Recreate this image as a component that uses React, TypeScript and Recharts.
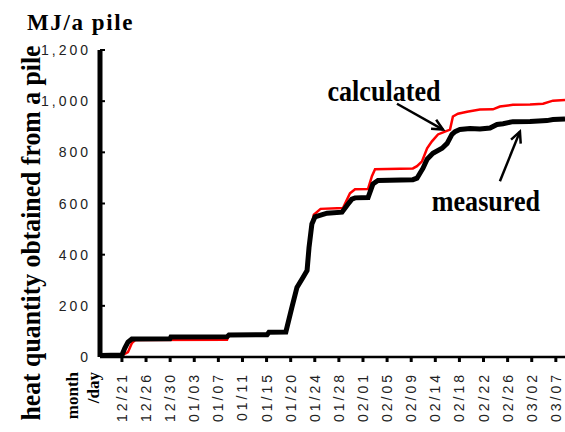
import { Line, LineChart, ReferenceLine, XAxis, YAxis } from "recharts";

// x is measured in tick steps (0 = 12/21, 18 = 03/07)
const dayLabels = [
  "12/21", "12/26", "12/30", "01/03", "01/07", "01/11", "01/15", "01/20",
  "01/24", "01/28", "02/01", "02/05", "02/09", "02/14", "02/18", "02/22",
  "02/26", "03/02", "03/07",
];
const dayTicks = dayLabels.map((_, i) => i);
const qtyTicks = [0, 200, 400, 600, 800, 1000, 1200];

const measured: [number, number][] = [
  [-0.91, 6], [0.0, 8], [0.12, 35], [0.25, 58], [0.41, 70], [1.99, 71],
  [2.03, 78], [4.36, 79], [4.44, 86], [6.02, 87], [6.1, 97], [6.8, 98],
  [7.05, 194], [7.26, 272], [7.51, 311], [7.68, 338], [7.76, 427],
  [7.88, 520], [8.01, 548], [8.51, 562], [9.13, 566], [9.38, 598],
  [9.54, 617], [9.67, 622], [10.21, 623], [10.41, 676], [10.62, 690],
  [12.07, 693], [12.24, 699], [12.49, 738], [12.66, 773], [12.9, 796],
  [13.28, 816], [13.49, 835], [13.69, 870], [13.82, 881], [14.02, 889],
  [14.44, 893], [14.85, 891], [15.27, 895], [15.56, 909], [15.81, 912],
  [16.22, 920], [16.93, 921], [17.63, 924], [17.88, 928], [18.38, 930],
];

const calculated: [number, number][] = [
  [-0.91, 4], [0.0, 4], [0.04, 8], [0.25, 19], [0.41, 54], [0.55, 66],
  [4.36, 67], [4.44, 86], [6.02, 87], [6.1, 97], [6.8, 98], [7.05, 194],
  [7.26, 272], [7.51, 311], [7.68, 338], [7.76, 427], [7.88, 520],
  [7.96, 556], [8.24, 579], [9.17, 582], [9.46, 640], [9.67, 656],
  [10.21, 657], [10.37, 707], [10.5, 734], [12.07, 737], [12.24, 746],
  [12.45, 765], [12.66, 816], [12.86, 843], [13.11, 870], [13.4, 881],
  [13.61, 889], [13.73, 940], [13.94, 951], [14.32, 959], [14.85, 967],
  [15.39, 968], [15.68, 979], [16.22, 986], [16.93, 987], [17.47, 990],
  [17.88, 1002], [18.38, 1005],
];

// annotation arrows: [tail, head]
const calcArrow: [number, number][] = [[11.41, 990], [13.32, 889]];
const measArrow: [number, number][] = [[15.68, 687], [16.51, 881]];

const SANS = "'Liberation Sans', Arial, sans-serif";
const SERIF = "'Liberation Serif', 'Times New Roman', serif";

const toRows = (pts: [number, number][]) => pts.map(([t, q]) => ({ t, q }));

function DayTick({ x, y, payload }: any) {
  return (
    <text
      x={x}
      y={y}
      transform={`rotate(-90 ${x} ${y})`}
      textAnchor="end"
      dy="0.36em"
      fontFamily={SANS}
      fontSize={14}
      letterSpacing={3}
      fill="#222"
    >
      {dayLabels[payload.value]}
    </text>
  );
}

function QtyTick({ x, y, payload }: any) {
  return (
    <g>
      <line x1={x + 12} x2={x + 17} y1={y} y2={y} stroke="#000" strokeWidth={2} />
      <text
        x={x + 3}
        y={y}
        textAnchor="end"
        dy="0.36em"
        fontFamily={SANS}
        fontSize={14}
        letterSpacing={3}
        fill="#222"
      >
        {payload.value.toLocaleString("en-US")}
      </text>
    </g>
  );
}

function arrowWithCaption(caption: string, dx: number, dy: number) {
  return (p: any) => {
    const { x1, y1, x2, y2 } = p;
    const a = Math.atan2(y2 - y1, x2 - x1);
    const L = 12;
    const s = Math.PI / 7;
    const h1 = [x2 - L * Math.cos(a - s), y2 - L * Math.sin(a - s)];
    const h2 = [x2 - L * Math.cos(a + s), y2 - L * Math.sin(a + s)];
    return (
      <g>
        <line x1={x1} y1={y1} x2={x2} y2={y2} stroke="#000" strokeWidth={2.5} />
        <polyline
          points={`${h1[0]},${h1[1]} ${x2},${y2} ${h2[0]},${h2[1]}`}
          fill="none"
          stroke="#000"
          strokeWidth={2.5}
        />
        <text
          transform={`translate(${x1 + dx} ${y1 + dy}) scale(0.9 1)`}
          textAnchor="middle"
          fontFamily={SERIF}
          fontWeight="bold"
          fontSize={29}
          fill="#000"
        >
          {caption}
        </text>
      </g>
    );
  };
}

export default function App() {
  return (
    <div style={{ position: "absolute", left: 0, top: 0, width: 565, height: 432, background: "#fff" }}>
      <LineChart width={565} height={432} margin={{ top: 50, right: 0, bottom: 0, left: 0 }}>
        <XAxis
          dataKey="t"
          type="number"
          domain={[-0.91, 18.38]}
          allowDataOverflow
          ticks={dayTicks}
          interval={0}
          height={75}
          tickSize={5}
          tickMargin={10}
          tickLine={{ stroke: "#000", strokeWidth: 3 }}
          axisLine={{ stroke: "#000", strokeWidth: 2.5 }}
          tick={<DayTick />}
        />
        <YAxis
          type="number"
          domain={[0, 1200]}
          ticks={qtyTicks}
          interval={0}
          width={100}
          tickSize={0}
          tickMargin={12}
          tickLine={false}
          axisLine={{ stroke: "#000", strokeWidth: 5 }}
          tick={<QtyTick />}
        />
        <Line
          data={toRows(calculated)}
          dataKey="q"
          type="linear"
          stroke="#ff0000"
          strokeWidth={2.5}
          dot={false}
          isAnimationActive={false}
        />
        <Line
          data={toRows(measured)}
          dataKey="q"
          type="linear"
          stroke="#000"
          strokeWidth={5}
          dot={false}
          isAnimationActive={false}
        />
        <ReferenceLine
          segment={calcArrow.map(([x, y]) => ({ x, y }))}
          shape={arrowWithCaption("calculated", -13, -3)}
        />
        <ReferenceLine
          segment={measArrow.map(([x, y]) => ({ x, y }))}
          shape={arrowWithCaption("measured", -14, 30)}
        />
      </LineChart>
      <svg
        width={565}
        height={432}
        style={{ position: "absolute", left: 0, top: 0, pointerEvents: "none" }}
      >
        <text
          x={27}
          y={30}
          fontFamily={SERIF}
          fontWeight="bold"
          fontSize={23}
          letterSpacing={1.6}
          fill="#000"
        >
          MJ/a pile
        </text>
        <text
          transform="translate(40 233) rotate(-90) scale(0.92 1)"
          textAnchor="middle"
          fontFamily={SERIF}
          fontWeight="bold"
          fontSize={28}
          fill="#000"
        >
          heat quantity obtained from a pile
        </text>
        <text
          transform="translate(78 372) rotate(-90)"
          textAnchor="end"
          fontFamily={SERIF}
          fontWeight="bold"
          fontSize={17}
          fill="#000"
        >
          month
        </text>
        <text
          transform="translate(99 372) rotate(-90)"
          textAnchor="end"
          fontFamily={SERIF}
          fontWeight="bold"
          fontSize={17}
          fill="#000"
        >
          /day
        </text>
      </svg>
    </div>
  );
}
